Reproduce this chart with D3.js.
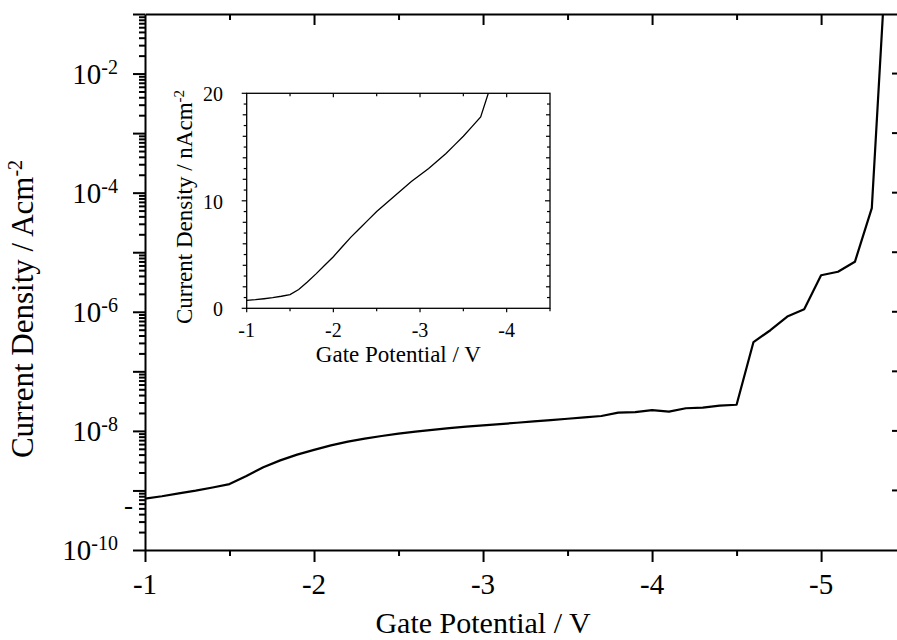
<!DOCTYPE html>
<html>
<head>
<meta charset="utf-8">
<script src="https://cdn.jsdelivr.net/npm/d3@7"></script>
<style>
  body { margin: 0; background: #fff; }
  svg { display: block; }
  text { font-family: "Liberation Serif", "Times New Roman", serif; fill: #000; }
</style>
</head>
<body>
<div id="chart"></div>
<script>
// gate potential (V) and current density (A cm^-2)
var gateV = [-1.0, -1.1, -1.2, -1.3, -1.4, -1.5, -1.6, -1.7, -1.8, -1.9,
  -2.0, -2.1, -2.2, -2.3, -2.4, -2.5, -2.6, -2.7, -2.8, -2.9,
  -3.0, -3.1, -3.2, -3.3, -3.4, -3.5, -3.6, -3.7, -3.8, -3.9,
  -4.0, -4.1, -4.2, -4.3, -4.4, -4.5, -4.6, -4.7, -4.8, -4.9,
  -5.0, -5.1, -5.2, -5.3, -5.4]
var current = [7.3e-10, 8.0e-10, 8.9e-10, 9.9e-10, 1.12e-9, 1.28e-9, 1.75e-9, 2.45e-9, 3.2e-9, 4.0e-9,
  4.8e-9, 5.7e-9, 6.6e-9, 7.4e-9, 8.2e-9, 9.0e-9, 9.7e-9, 10.4e-9, 11.1e-9, 11.8e-9,
  12.4e-9, 13.0e-9, 13.7e-9, 14.4e-9, 15.2e-9, 16.0e-9, 16.9e-9, 17.8e-9, 20.3e-9, 20.6e-9,
  22.3e-9, 21.0e-9, 24.0e-9, 24.5e-9, 26.5e-9, 27.5e-9, 3.1e-7, 4.9e-7, 8.3e-7, 1.1e-6,
  4.1e-6, 4.7e-6, 6.9e-6, 5.5e-5, 5.0]

var xTickValues = [-1, -2, -3, -4, -5]
var yLabelExps = [-10, -8, -6, -4, -2]
var insetXTicks = [-1, -2, -3, -4]
var insetYTicks = [0, 10, 20]

var W = 897, H = 640

var svg = d3.select('#chart').append('svg')
    .attr('width', W).attr('height', H)

// ---------- main plot ----------
var x = d3.scaleLinear().domain([-1, -5.455]).range([145, 898])
var y = d3.scaleLog().domain([1e-10, 1e-1]).range([550, 14])

var data = gateV.map((v, i) => ({ v: v, j: current[i] }))

svg.append('clipPath').attr('id', 'clipMain')
  .append('rect').attr('x', x(-1)).attr('y', y(1e-1))
  .attr('width', x.range()[1] - x(-1)).attr('height', y(1e-10) - y(1e-1))

var line = d3.line().x(d => x(d.v)).y(d => y(d.j))

svg.append('path').datum(data)
  .attr('clip-path', 'url(#clipMain)')
  .attr('fill', 'none').attr('stroke', '#000').attr('stroke-width', 2.2)
  .attr('stroke-linejoin', 'round')
  .attr('d', line)

var halfTicks = d3.range(-1, -5.45, -0.5).map(v => +v.toFixed(1))
var isInt = v => Math.abs(v - Math.round(v)) < 1e-6

// bottom axis (outward ticks)
var bottomAxis = svg.append('g').attr('transform', `translate(0, ${y(1e-10)})`)
bottomAxis.call(d3.axisBottom(x).tickValues(halfTicks).tickFormat('').tickSizeOuter(0))
bottomAxis.select('.domain').attr('stroke-width', 2)
bottomAxis.selectAll('.tick line').attr('stroke-width', 2)
  .attr('y2', d => isInt(d) ? 12 : 6)

// top axis (inward ticks)
var topAxis = svg.append('g').attr('transform', `translate(0, ${y(1e-1)})`)
topAxis.call(d3.axisBottom(x).tickValues(halfTicks.slice(1)).tickFormat('').tickSizeOuter(0))
topAxis.select('.domain').attr('stroke-width', 2)
topAxis.selectAll('.tick line').attr('stroke-width', 2)
  .attr('y2', d => isInt(d) ? 11 : 6)

svg.selectAll('.xlab').data(xTickValues).enter().append('text')
  .attr('x', d => x(d)).attr('y', 594)
  .attr('text-anchor', 'middle').attr('font-size', 29)
  .text(d => d)

// left axis (outward ticks, log minors)
var logTicks = []
for (var e = -10; e < -1; e++) {
  for (var m = 1; m < 10; m++) logTicks.push(m * Math.pow(10, e))
}
logTicks.push(1e-1)
var leftAxis = svg.append('g').attr('transform', `translate(${x(-1)}, 0)`)
leftAxis.call(d3.axisLeft(y).tickValues(logTicks).tickFormat('').tickSizeOuter(0))
leftAxis.select('.domain').attr('stroke-width', 2)
leftAxis.selectAll('.tick line').attr('stroke-width', 2)
  .attr('x2', d => Math.abs(Math.log10(d) - Math.round(Math.log10(d))) < 1e-6 ? -12 : -6)

// right axis ticks, decades only, inward
var decades = d3.range(-9, -1).map(e => Math.pow(10, e))
svg.selectAll('.rtick').data(decades).enter().append('line')
  .attr('x1', x.range()[1] - 6).attr('x2', x.range()[1])
  .attr('y1', d => y(d)).attr('y2', d => y(d))
  .attr('stroke', '#000').attr('stroke-width', 2)

var ylab = svg.selectAll('.ylab').data(yLabelExps).enter().append('text')
  .attr('x', 118).attr('y', d => y(Math.pow(10, d)) + 10)
  .attr('text-anchor', 'end').attr('font-size', 29)
ylab.append('tspan').text('10')
ylab.append('tspan').attr('dy', -10).attr('font-size', 20).text(d => d)

// stray hyphen mark next to the left axis
svg.append('text').attr('x', 133).attr('y', y(5.3e-10) + 7)
  .attr('text-anchor', 'end').attr('font-size', 27).text('-')

svg.append('text')
  .attr('x', x(-3)).attr('y', 633)
  .attr('text-anchor', 'middle').attr('font-size', 30)
  .text('Gate Potential / V')

var yt = svg.append('text')
  .attr('transform', 'translate(33, 309) rotate(-90)')
  .attr('text-anchor', 'middle').attr('font-size', 31)
yt.append('tspan').text('Current Density / Acm')
yt.append('tspan').attr('dy', -11).attr('font-size', 20).text('-2')

// ---------- inset ----------
var xi = d3.scaleLinear().domain([-1, -4.5]).range([246.7, 550])
var yi = d3.scaleLinear().domain([0, 20]).range([308.3, 93.3])

var insetData = data.filter(d => d.v >= -4.0).map(d => ({ v: d.v, n: d.j * 1e9 }))

svg.append('clipPath').attr('id', 'clipInset')
  .append('rect').attr('x', xi(-1)).attr('y', yi(20))
  .attr('width', xi(-4.5) - xi(-1)).attr('height', yi(0) - yi(20))

svg.append('rect')
  .attr('x', xi(-1)).attr('y', yi(20))
  .attr('width', xi(-4.5) - xi(-1)).attr('height', yi(0) - yi(20))
  .attr('fill', '#fff').attr('stroke', '#000').attr('stroke-width', 1.3)

svg.append('path').datum(insetData)
  .attr('clip-path', 'url(#clipInset)')
  .attr('fill', 'none').attr('stroke', '#000').attr('stroke-width', 1.3)
  .attr('d', d3.line().x(d => xi(d.v)).y(d => yi(d.n)))

var iHalf = d3.range(-1, -4.51, -0.5).map(v => +v.toFixed(1))
var iUnits = d3.range(0, 21)

function tickLenY(d) { return d % 10 === 0 ? 5 : (d % 2 === 0 ? 4 : 3) }

// inset left (outward) and right (inward) ticks
svg.selectAll('.ilt').data(iUnits).enter().append('line')
  .attr('x1', d => xi(-1) - tickLenY(d)).attr('x2', xi(-1))
  .attr('y1', d => yi(d)).attr('y2', d => yi(d))
  .attr('stroke', '#000').attr('stroke-width', 1.2)
svg.selectAll('.irt').data(iUnits.slice(1, 20)).enter().append('line')
  .attr('x1', d => xi(-4.5) - tickLenY(d)).attr('x2', xi(-4.5))
  .attr('y1', d => yi(d)).attr('y2', d => yi(d))
  .attr('stroke', '#000').attr('stroke-width', 1.2)

// inset bottom (outward) and top (inward) ticks
svg.selectAll('.ibt').data(iHalf).enter().append('line')
  .attr('x1', d => xi(d)).attr('x2', d => xi(d))
  .attr('y1', yi(0)).attr('y2', d => yi(0) + (isInt(d) ? 4 : 3))
  .attr('stroke', '#000').attr('stroke-width', 1.2)
svg.selectAll('.itt').data(iHalf.slice(1, -1)).enter().append('line')
  .attr('x1', d => xi(d)).attr('x2', d => xi(d))
  .attr('y1', yi(20)).attr('y2', d => yi(20) + (isInt(d) ? 4 : 3))
  .attr('stroke', '#000').attr('stroke-width', 1.2)

svg.selectAll('.ixl').data(insetXTicks).enter().append('text')
  .attr('x', d => xi(d)).attr('y', 337)
  .attr('text-anchor', 'middle').attr('font-size', 20)
  .text(d => d)

svg.selectAll('.iyl').data(insetYTicks).enter().append('text')
  .attr('x', 223).attr('y', d => yi(d) + 8)
  .attr('text-anchor', 'end').attr('font-size', 20)
  .text(d => d)

svg.append('text')
  .attr('x', (xi(-1) + xi(-4.5)) / 2).attr('y', 362)
  .attr('text-anchor', 'middle').attr('font-size', 23)
  .text('Gate Potential / V')

var iyt = svg.append('text')
  .attr('transform', 'translate(192, 207) rotate(-90)')
  .attr('text-anchor', 'middle').attr('font-size', 23)
iyt.append('tspan').text('Current Density / nAcm')
iyt.append('tspan').attr('dy', -8).attr('font-size', 15).text('-2')
</script>
</body>
</html>
